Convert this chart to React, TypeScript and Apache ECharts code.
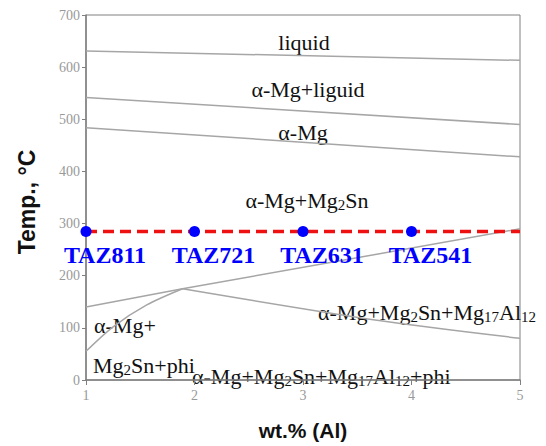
import React, { useEffect, useRef } from "react";
import * as echarts from "echarts";

const liquidus = [[1, 631], [5, 613]];
const alphaLiquid = [[1, 542], [5, 490]];
const alphaSolvus = [[1, 484], [5, 428]];
const mg2snSolvus = [[1, 140], [1.89, 175], [5, 290]];
const phiBoundary = [[1, 55], [1.25, 102], [1.56, 144], [1.89, 175]];
const mg17Boundary = [[1.89, 175], [3.7, 114], [5, 80]];
const agingTemp = 285;
const alloyX = [1, 2, 3, 4];
const alloyNames = ["TAZ811", "TAZ721", "TAZ631", "TAZ541"];
const xTicks = [1, 2, 3, 4, 5];

const serif = "Liberation Serif";
const sans = "Liberation Sans";

export default function App() {
  const ref = useRef<HTMLDivElement>(null);
  useEffect(() => {
    document.body.style.margin = "0";
    const chart = echarts.init(ref.current!, null, { renderer: "svg" });
    const boundaryStyle = { color: "#a6a6a6", width: 1.5 };
    const boundary = (data: number[][], smooth = false) => ({
      type: "line",
      data,
      smooth: smooth ? 0.3 : false,
      showSymbol: false,
      symbol: "none",
      lineStyle: boundaryStyle,
      silent: true,
      z: 2,
    });
    const n = { fontSize: 22, fontFamily: serif, color: "#111", lineHeight: 24 };
    const s = { fontSize: 15, fontFamily: serif, color: "#111", padding: [10, 0, 0, 0], lineHeight: 24 };
    const rich = { n, s };
    const label = (x: number, y: number, text: string, align = "center") => ({
      type: "text",
      x,
      y,
      style: { text, rich, align, verticalAlign: "middle", fill: "#111", fontSize: 22, fontFamily: serif },
    });
    chart.setOption({
      animation: false,
      textStyle: { fontFamily: serif },
      grid: { left: 86, right: 26, top: 15, bottom: 55, show: true, borderColor: "#808080", borderWidth: 1 },
      xAxis: {
        type: "value",
        min: 1,
        max: 5,
        interval: 1,
        name: "wt.% (Al)",
        nameLocation: "middle",
        nameGap: 40,
        nameTextStyle: { fontFamily: sans, fontWeight: "bold", fontSize: 21, color: "#111" },
        axisLine: { lineStyle: { color: "#808080", width: 1.5 } },
        axisTick: { show: true, length: 5, lineStyle: { color: "#808080" } },
        axisLabel: { fontFamily: serif, fontSize: 14, color: "#999", margin: 8, formatter: (v: number) => (xTicks.includes(v) ? String(v) : "") },
        splitLine: { show: false },
      },
      yAxis: {
        type: "value",
        min: 0,
        max: 700,
        interval: 100,
        axisLine: { show: true, lineStyle: { color: "#808080", width: 1.5 } },
        axisTick: { show: true, length: 4, lineStyle: { color: "#808080" } },
        axisLabel: { fontFamily: serif, fontSize: 14, color: "#999", margin: 6 },
        splitLine: { show: false },
      },
      graphic: [
        {
          type: "text",
          x: 27,
          y: 202,
          rotation: Math.PI / 2,
          style: { text: "Temp., °C", align: "center", verticalAlign: "middle", fontFamily: sans, fontWeight: "bold", fontSize: 23, fill: "#111" },
        },
        label(304, 42, "{n|liquid}"),
        label(308, 89, "{n|α-Mg+liguid}"),
        label(303, 132, "{n|α-Mg}"),
        label(307, 200, "{n|α-Mg+Mg}{s|2}{n|Sn}"),
        label(318, 312, "{n|α-Mg+Mg}{s|2}{n|Sn+Mg}{s|17}{n|Al}{s|12}", "left"),
        label(94, 325, "{n|α-Mg+}", "left"),
        label(93, 365, "{n|Mg}{s|2}{n|Sn+phi}", "left"),
        label(192, 376, "{n|α-Mg+Mg}{s|2}{n|Sn+Mg}{s|17}{n|Al}{s|12}{n|+phi}", "left"),
      ],
      series: [
        boundary(liquidus),
        boundary(alphaLiquid),
        boundary(alphaSolvus),
        boundary(mg2snSolvus),
        boundary(phiBoundary, true),
        boundary(mg17Boundary, true),
        {
          type: "line",
          data: [[1, agingTemp], [5, agingTemp]],
          symbol: "none",
          lineStyle: { color: "#ee1111", width: 3.5, type: [11, 6] },
          z: 3,
        },
        {
          type: "scatter",
          data: alloyX.map((x, i) => ({ value: [x, agingTemp], name: alloyNames[i] })),
          symbolSize: 11,
          itemStyle: { color: "#0000ff", opacity: 1 },
          label: {
            show: true,
            position: "bottom",
            distance: 4,
            offset: [19, 5],
            lineHeight: 19,
            formatter: (p: any) => p.name,
            fontFamily: serif,
            fontWeight: "bold",
            fontSize: 24,
            color: "#0000ff",
          },
          z: 4,
        },
      ],
    });
    return () => chart.dispose();
  }, []);
  return <div ref={ref} style={{ position: "absolute", left: 0, top: 0, width: 546, height: 446 }} />;
}
